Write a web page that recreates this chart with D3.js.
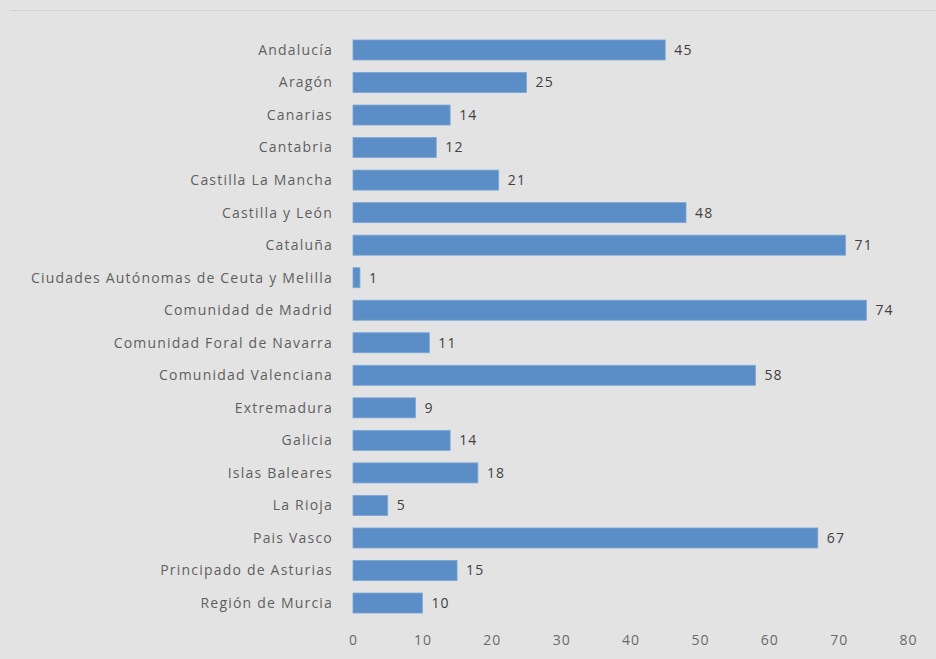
<!DOCTYPE html>
<html>
<head>
<meta charset="utf-8">
<script src="https://cdn.jsdelivr.net/npm/d3@7"></script>
<style>
  body { margin: 0; background: #e3e3e3; }
  svg { display: block; }
</style>
</head>
<body>
<script>
const regions = ["Andalucía", "Aragón", "Canarias", "Cantabria", "Castilla La Mancha",
  "Castilla y León", "Cataluña", "Ciudades Autónomas de Ceuta y Melilla", "Comunidad de Madrid",
  "Comunidad Foral de Navarra", "Comunidad Valenciana", "Extremadura", "Galicia",
  "Islas Baleares", "La Rioja", "Pais Vasco", "Principado de Asturias", "Región de Murcia"]
const counts = [45, 25, 14, 12, 21, 48, 71, 1, 74, 11, 58, 9, 14, 18, 5, 67, 15, 10]
const xTicks = [0, 10, 20, 30, 40, 50, 60, 70, 80]

const width = 936, height = 659
const font = "'Open Sans', 'Noto Sans', sans-serif"

const svg = d3.select("body").append("svg")
    .attr("width", width)
    .attr("height", height)

svg.append("rect").attr("width", width).attr("height", height).attr("fill", "#e3e3e3")

// thin rule at the top
svg.append("line")
    .attr("x1", 10).attr("x2", width)
    .attr("y1", 10.5).attr("y2", 10.5)
    .attr("stroke", "#d0d0d0")

const x = d3.scaleLinear().domain([0, 80]).range([353, 908])
const y = d3.scaleBand()
    .domain(regions)
    .range([33.7, 619.3])
    .paddingInner(0.385)
    .paddingOuter(0.1925)

const data = regions.map((r, i) => ({name: r, value: counts[i]}))

// bars
svg.append("g").selectAll("rect")
    .data(data)
    .join("rect")
    .attr("x", x(0))
    .attr("y", d => y(d.name))
    .attr("width", d => x(d.value) - x(0))
    .attr("height", y.bandwidth())
    .attr("fill", "#5b8dc7")
    .attr("stroke", "#7aa6d8")
    .attr("stroke-width", 0.8)

// category labels
svg.append("g").selectAll("text")
    .data(data)
    .join("text")
    .attr("x", 333)
    .attr("y", d => y(d.name) + y.bandwidth() / 2)
    .attr("dy", "0.35em")
    .attr("text-anchor", "end")
    .attr("font-family", font)
    .attr("font-size", 14)
    .attr("letter-spacing", 1.2)
    .attr("fill", "#5f5f5f")
    .text(d => d.name)

// value labels
svg.append("g").selectAll("text")
    .data(data)
    .join("text")
    .attr("x", d => x(d.value) + 9)
    .attr("y", d => y(d.name) + y.bandwidth() / 2)
    .attr("dy", "0.35em")
    .attr("font-family", font)
    .attr("font-size", 14)
    .attr("letter-spacing", 1.2)
    .attr("fill", "#404040")
    .text(d => d.value)

// x axis, labels only
const xAxis = svg.append("g")
    .attr("transform", "translate(0,627)")
    .call(d3.axisBottom(x).tickValues(xTicks).tickSize(0).tickPadding(8))
xAxis.select(".domain").remove()
xAxis.selectAll("text")
    .attr("font-family", font)
    .attr("font-size", 14)
    .attr("letter-spacing", 1)
    .attr("fill", "#6a6a6a")
</script>
</body>
</html>
